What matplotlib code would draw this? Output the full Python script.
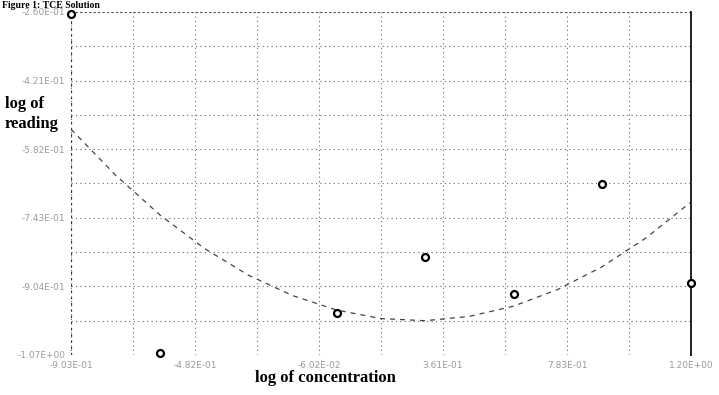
import matplotlib
matplotlib.use("Agg")
import matplotlib.pyplot as plt
from matplotlib.ticker import FixedLocator

# ---- data ----
log_conc = [-0.903, -0.602, 0.0, 0.301, 0.602, 0.903, 1.204]
log_reading = [-0.264, -1.061, -0.967, -0.835, -0.922, -0.664, -0.896]

# dashed fitted trend line
fit_x = [-0.903, -0.75, -0.6, -0.45, -0.3, -0.15, 0.0, 0.15, 0.3, 0.45,
         0.6, 0.75, 0.9, 1.05, 1.204]
fit_y = [-0.535, -0.644, -0.737, -0.815, -0.878, -0.926, -0.960, -0.980,
         -0.985, -0.975, -0.951, -0.912, -0.859, -0.791, -0.706]

x_ticks = [-0.903, -0.482, -0.0602, 0.361, 0.783, 1.204]
x_tick_labels = ["-9.03E-01", "-4.82E-01", "-6.02E-02", "3.61E-01", "7.83E-01", "1.20E+00"]
y_ticks = [-1.0656, -0.9044, -0.7432, -0.582, -0.4208, -0.2596]
y_tick_labels = ["-1.07E+00", "-9.04E-01", "-7.43E-01", "-5.82E-01", "-4.21E-01", "-2.60E-01"]

fig = plt.figure(figsize=(7.19, 3.95), dpi=100)
ax = fig.add_axes([71 / 719, 40 / 395, 620 / 719, 343 / 395])

ax.set_xlim(x_ticks[0], x_ticks[-1])
ax.set_ylim(y_ticks[0], y_ticks[-1])

# grid: major at labels, minor midway
xminor = [(a + b) / 2 for a, b in zip(x_ticks[:-1], x_ticks[1:])]
yminor = [(a + b) / 2 for a, b in zip(y_ticks[:-1], y_ticks[1:])]
ax.xaxis.set_major_locator(FixedLocator(x_ticks))
ax.yaxis.set_major_locator(FixedLocator(y_ticks))
ax.xaxis.set_minor_locator(FixedLocator(xminor))
ax.yaxis.set_minor_locator(FixedLocator(yminor))
ax.set_xticklabels(x_tick_labels)
ax.set_yticklabels(y_tick_labels)
ax.grid(True, which="both", color="#666666", linestyle=(0, (1, 3)), linewidth=0.8)
ax.tick_params(which="both", length=0, labelsize=6.5, labelcolor="#9a9a9a", pad=4)

for s in ["top", "bottom", "left"]:
    ax.spines[s].set_visible(False)
ax.spines["right"].set_color("#222222")
ax.spines["right"].set_linewidth(1.4)
ax.axvline(x_ticks[0], color="#333333", linestyle=(0, (2, 3)), linewidth=0.9)
ax.axhline(y_ticks[-1], color="#555555", linestyle=(0, (2, 2)), linewidth=0.8)

ax.plot(fit_x, fit_y, color="#444444", linestyle=(0, (4, 4)), linewidth=0.9)
ax.plot(log_conc, log_reading, linestyle="none", marker="o", markersize=5,
        markerfacecolor="white", markeredgecolor="black", markeredgewidth=1.6,
        clip_on=False, zorder=5)

serif = ["Liberation Serif", "DejaVu Serif"]
fig.text(5 / 719, 1 - 114 / 395, "log of\nreading", family=serif, fontweight="bold",
         fontsize=12, va="center", ha="left", linespacing=1.3)
fig.text(255 / 719, 1 - 378 / 395, "log of concentration", family=serif,
         fontweight="bold", fontsize=12, va="center", ha="left")
fig.text(2 / 719, 1 - 1 / 395, "Figure 1: TCE Solution", family=serif, fontweight="bold",
         fontsize=7, va="top", ha="left")

fig.savefig("out.png", dpi=100)
